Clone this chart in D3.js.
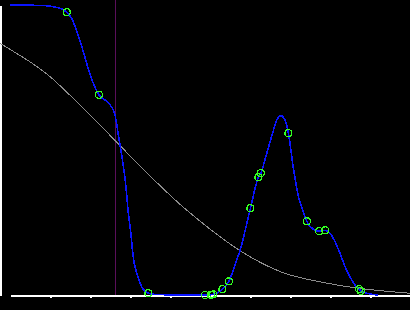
<!DOCTYPE html>
<html lang="en">
	<head>
		<meta charset="utf-8">
		<title>D3: curve with markers</title>
		<script type="text/javascript" src="https://d3js.org/d3.v7.min.js"></script>
		<style type="text/css">
			html, body {
				margin: 0;
				padding: 0;
				background: #000;
			}
			svg {
				display: block;
			}
		</style>
	</head>
	<body>
		<div id="svgCont"></div>
		<script type="text/javascript">

			// blue curve
			var curveX = [0, 0.875, 1.125, 1.3, 1.417, 1.55, 1.7, 1.82, 1.92, 2.07, 2.225, 2.42, 2.54, 2.625, 2.67, 2.73,
						  2.81, 2.9, 2.95, 3.02, 3.08, 3.17, 3.29, 3.46, 3.625, 4.3, 4.875, 5.025, 5.08, 5.31, 5.47, 5.67,
						  5.75, 6.01, 6.21, 6.27, 6.42, 6.54, 6.67, 6.775, 6.875, 6.96, 7.08, 7.21, 7.32, 7.42, 7.58, 7.73,
						  7.88, 8.0, 8.125, 8.25, 8.375, 8.5, 8.625, 8.73, 8.77, 8.92, 9.21];
			var curveY = [1.0, 0.998, 0.993, 0.986, 0.975, 0.952, 0.897, 0.845, 0.797, 0.734, 0.690, 0.667, 0.648, 0.621, 0.586, 0.534,
						  0.466, 0.372, 0.293, 0.214, 0.132, 0.075, 0.029, 0.006, 0.002, 0.0, 0.0, 0.001, 0.002, 0.020, 0.047, 0.121,
						  0.153, 0.299, 0.406, 0.420, 0.489, 0.546, 0.603, 0.618, 0.603, 0.558, 0.442, 0.339, 0.293, 0.254, 0.227, 0.220,
						  0.223, 0.213, 0.184, 0.144, 0.098, 0.063, 0.034, 0.020, 0.014, 0.006, 0.0];

			// green sample points
			var pointX = [1.417, 2.225, 3.46, 4.875, 5.025, 5.08, 5.31, 5.47, 6.01, 6.21, 6.27, 6.96, 7.42, 7.73, 7.88, 8.73, 8.77];
			var pointY = [0.975, 0.690, 0.006, 0.0, 0.001, 0.002, 0.020, 0.047, 0.299, 0.406, 0.420, 0.558, 0.254, 0.220, 0.223, 0.020, 0.014];

			// grey reference curve
			var refX = [-0.25, 0, 0.5, 1.0, 1.58, 2.25, 3.0, 4.08, 4.92, 5.75, 6.75, 7.58, 8.42, 9.25, 10];
			var refY = [0.868, 0.847, 0.804, 0.753, 0.678, 0.586, 0.480, 0.334, 0.236, 0.153, 0.081, 0.050, 0.029, 0.015, 0.006];

			// vertical marker
			var cutX = 2.625;

			var xTicks = [1, 2, 3, 4, 5, 6, 7, 8, 9];
			var yTicks = [0.1, 0.2, 0.3, 0.4, 0.5, 0.6, 0.7, 0.8, 0.9];

			//Width and height
			var w = 410;
			var h = 310;

			var xScale = d3.scaleLinear()
							.domain([0, 10])
							.range([10, 410]);

			var yScale = d3.scaleLinear()
							.domain([0, 1])
							.range([295, 5]);

			var svg = d3.select("#svgCont")
						.append("svg")
						.attr("width", w)
						.attr("height", h)
						.attr("shape-rendering", "crispEdges")
						.style("background", "#000");

			// vertical line
			svg.append("line")
				.attr("x1", xScale(cutX) + 0.5)
				.attr("x2", xScale(cutX) + 0.5)
				.attr("y1", 0)
				.attr("y2", yScale(0))
				.attr("stroke", "#5a0f5a")
				.attr("stroke-width", 1);

			// axes
			var yAxis = d3.axisLeft(yScale)
						  .tickValues(yTicks)
						  .tickSize(4)
						  .tickSizeOuter(0)
						  .tickFormat("");
			var xAxis = d3.axisBottom(xScale)
						  .tickValues(xTicks)
						  .tickSize(3)
						  .tickSizeOuter(0)
						  .tickFormat("");

			svg.append("g").attr("transform", "translate(0.5,0)").call(yAxis);
			svg.append("g").attr("transform", "translate(0," + yScale(0) + ")").call(xAxis);

			svg.selectAll(".domain, .tick line")
				.attr("stroke", "#fff")
				.attr("stroke-width", 2);

			// grey curve
			var refLine = d3.line()
				.curve(d3.curveNatural)
				.x(function(d, i) { return xScale(refX[i]); })
				.y(function(d) { return yScale(d); });

			svg.append("path")
				.datum(refY)
				.attr("d", refLine)
				.style("fill", "none")
				.style("stroke", "#8c8c8c")
				.style("stroke-width", 1);

			// blue curve
			var line = d3.line()
				.curve(d3.curveMonotoneX)
				.x(function(d, i) { return xScale(curveX[i]); })
				.y(function(d) { return yScale(d); });

			svg.append("path")
				.datum(curveY)
				.attr("d", line)
				.style("fill", "none")
				.style("stroke", "#0a14ff")
				.style("stroke-width", 1.6);

			// points
			svg.selectAll("circle.pt")
				.data(pointY)
				.enter()
				.append("circle")
				.attr("class", "pt")
				.attr("cx", function(d, i) { return xScale(pointX[i]); })
				.attr("cy", function(d) { return yScale(d); })
				.attr("r", 3.5)
				.style("fill", "none")
				.style("stroke", "#33ff22")
				.style("stroke-width", 1.2);
		</script>
	</body>
</html>
